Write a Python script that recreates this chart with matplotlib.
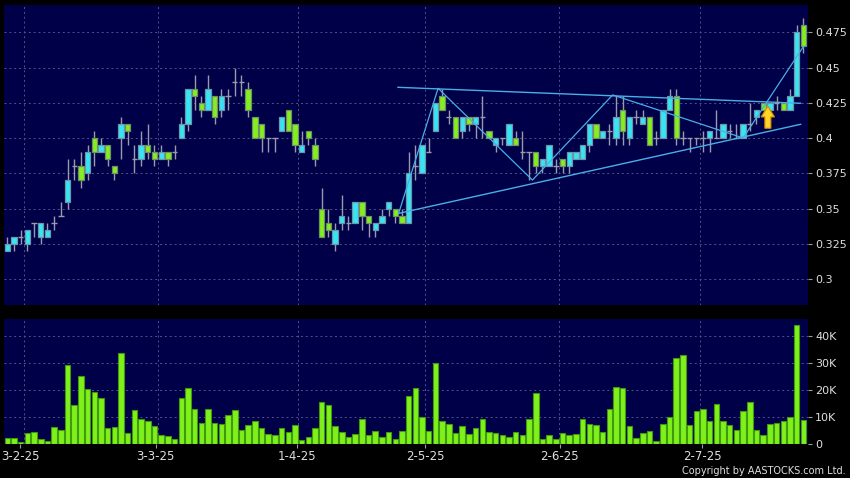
import matplotlib
matplotlib.use("Agg")
import matplotlib.pyplot as plt
from matplotlib.patches import Polygon
import numpy as np

# daily OHLC, oldest first (120 sessions)
opens = [0.32, 0.325, 0.33, 0.325, 0.34, 0.33, 0.33, 0.34, 0.345, 0.355,
         0.38, 0.38, 0.375, 0.40, 0.39, 0.395, 0.38, 0.40, 0.41, 0.385,
         0.385, 0.395, 0.39, 0.385, 0.39, 0.39, 0.40, 0.41, 0.435, 0.425,
         0.42, 0.43, 0.42, 0.43, 0.44, 0.44, 0.435, 0.415, 0.41, 0.40,
         0.40, 0.405, 0.42, 0.41, 0.39, 0.405, 0.395, 0.35, 0.34, 0.325,
         0.34, 0.34, 0.34, 0.355, 0.345, 0.335, 0.34, 0.35, 0.35, 0.345,
         0.34, 0.38, 0.375, 0.39, 0.405, 0.43, 0.415, 0.415, 0.405, 0.415,
         0.41, 0.415, 0.405, 0.395, 0.40, 0.395, 0.40, 0.39, 0.39, 0.39,
         0.38, 0.38, 0.38, 0.385, 0.38, 0.385, 0.385, 0.395, 0.41, 0.40,
         0.405, 0.40, 0.42, 0.40, 0.415, 0.41, 0.415, 0.40, 0.40, 0.42,
         0.43, 0.40, 0.40, 0.40, 0.40, 0.40, 0.40, 0.40, 0.405, 0.40,
         0.40, 0.41, 0.415, 0.425, 0.42, 0.425, 0.425, 0.42, 0.43, 0.48]
highs = [0.33, 0.33, 0.335, 0.335, 0.34, 0.34, 0.34, 0.345, 0.355, 0.385,
         0.385, 0.39, 0.395, 0.405, 0.40, 0.395, 0.38, 0.415, 0.41, 0.395,
         0.405, 0.41, 0.395, 0.395, 0.39, 0.395, 0.415, 0.435, 0.445, 0.43,
         0.445, 0.43, 0.435, 0.435, 0.45, 0.445, 0.44, 0.415, 0.41, 0.40,
         0.40, 0.415, 0.42, 0.41, 0.405, 0.405, 0.40, 0.365, 0.35, 0.34,
         0.36, 0.345, 0.355, 0.355, 0.345, 0.34, 0.35, 0.355, 0.35, 0.35,
         0.39, 0.395, 0.395, 0.40, 0.425, 0.435, 0.42, 0.415, 0.415, 0.415,
         0.415, 0.43, 0.405, 0.40, 0.40, 0.41, 0.405, 0.405, 0.39, 0.39,
         0.385, 0.395, 0.385, 0.385, 0.39, 0.39, 0.395, 0.41, 0.41, 0.405,
         0.41, 0.43, 0.43, 0.415, 0.42, 0.42, 0.415, 0.405, 0.42, 0.435,
         0.435, 0.405, 0.40, 0.40, 0.405, 0.405, 0.42, 0.41, 0.41, 0.41,
         0.41, 0.425, 0.42, 0.425, 0.425, 0.43, 0.425, 0.435, 0.48, 0.485]
lows = [0.32, 0.32, 0.325, 0.32, 0.33, 0.325, 0.33, 0.335, 0.345, 0.35,
        0.37, 0.365, 0.37, 0.38, 0.39, 0.38, 0.37, 0.385, 0.395, 0.375,
        0.38, 0.385, 0.38, 0.385, 0.38, 0.385, 0.40, 0.405, 0.42, 0.415,
        0.42, 0.41, 0.415, 0.42, 0.43, 0.43, 0.415, 0.40, 0.39, 0.39,
        0.39, 0.405, 0.405, 0.39, 0.39, 0.395, 0.38, 0.33, 0.33, 0.32,
        0.335, 0.335, 0.34, 0.335, 0.33, 0.33, 0.34, 0.345, 0.34, 0.34,
        0.34, 0.37, 0.375, 0.39, 0.405, 0.42, 0.41, 0.40, 0.40, 0.405,
        0.40, 0.40, 0.40, 0.39, 0.395, 0.395, 0.395, 0.385, 0.37, 0.375,
        0.375, 0.38, 0.375, 0.375, 0.375, 0.385, 0.385, 0.39, 0.40, 0.40,
        0.395, 0.395, 0.395, 0.395, 0.41, 0.41, 0.395, 0.395, 0.40, 0.42,
        0.395, 0.395, 0.39, 0.395, 0.39, 0.39, 0.40, 0.40, 0.40, 0.40,
        0.40, 0.405, 0.41, 0.42, 0.42, 0.42, 0.42, 0.42, 0.43, 0.46]
closes = [0.325, 0.33, 0.33, 0.335, 0.34, 0.34, 0.335, 0.34, 0.345, 0.37,
          0.38, 0.37, 0.39, 0.39, 0.395, 0.385, 0.375, 0.41, 0.405, 0.385,
          0.395, 0.39, 0.385, 0.39, 0.385, 0.39, 0.41, 0.435, 0.43, 0.42,
          0.435, 0.415, 0.43, 0.43, 0.44, 0.44, 0.42, 0.40, 0.40, 0.40,
          0.40, 0.415, 0.405, 0.395, 0.395, 0.40, 0.385, 0.33, 0.335, 0.335,
          0.345, 0.34, 0.355, 0.345, 0.34, 0.34, 0.345, 0.355, 0.345, 0.34,
          0.375, 0.38, 0.395, 0.39, 0.425, 0.42, 0.415, 0.40, 0.415, 0.41,
          0.415, 0.415, 0.40, 0.40, 0.40, 0.41, 0.395, 0.39, 0.39, 0.38,
          0.385, 0.395, 0.38, 0.38, 0.39, 0.39, 0.395, 0.41, 0.40, 0.405,
          0.405, 0.415, 0.405, 0.415, 0.415, 0.415, 0.395, 0.40, 0.42, 0.43,
          0.40, 0.40, 0.40, 0.40, 0.40, 0.405, 0.40, 0.41, 0.405, 0.40,
          0.41, 0.41, 0.42, 0.42, 0.425, 0.425, 0.42, 0.43, 0.475, 0.465]
# volume in thousands of shares
volume_k = [1.9, 2.1, 0.6, 4.0, 4.3, 1.6, 0.9, 6.0, 5.1, 29.3,
            14.4, 25.1, 20.4, 19.3, 17.1, 5.7, 6.3, 33.9, 3.9, 12.4,
            9.1, 8.4, 6.6, 3.1, 2.7, 1.5, 17.0, 20.6, 12.8, 7.8,
            13.0, 7.7, 7.2, 10.6, 12.4, 5.0, 6.8, 8.2, 5.8, 3.5,
            3.1, 5.7, 4.2, 6.8, 1.2, 2.4, 5.7, 15.3, 14.2, 6.5,
            4.3, 2.5, 3.5, 9.2, 3.1, 4.7, 2.4, 4.1, 1.6, 4.6,
            17.6, 20.7, 9.9, 4.6, 30.1, 8.4, 7.2, 3.8, 6.7, 3.5,
            5.7, 9.1, 4.3, 3.8, 3.1, 2.3, 4.3, 3.3, 9.3, 19.0,
            1.7, 3.1, 1.6, 3.9, 3.0, 3.6, 9.1, 7.3, 6.9, 4.2,
            12.7, 21.2, 20.6, 6.4, 2.2, 3.9, 4.6, 1.1, 7.4, 9.7,
            31.8, 33.1, 6.9, 12.0, 12.7, 8.5, 14.8, 8.2, 6.8, 5.0,
            12.2, 15.6, 5.0, 3.3, 7.1, 7.8, 8.2, 10.0, 44.0, 8.7]

date_labels = ["3-2-25", "3-3-25", "1-4-25", "2-5-25", "2-6-25", "2-7-25"]
date_ticks = [1.9, 22.2, 43.3, 62.5, 82.6, 103.9]   # where the labels sit
month_grid = [2.5, 22.5, 43.5, 62.5, 82.5, 103.5]   # dashed separators
price_ticks = [0.3, 0.325, 0.35, 0.375, 0.4, 0.425, 0.45, 0.475]
price_labels = ["0.3", "0.325", "0.35", "0.375", "0.4", "0.425", "0.45", "0.475"]
vol_ticks = [0, 10, 20, 30, 40]
vol_labels = ["0", "10K", "20K", "30K", "40K"]

# hand-drawn pattern lines (session index, price)
upper_x, upper_y = [58.4, 118.6], [0.436, 0.4247]
lower_x, lower_y = [58.5, 118.6], [0.3467, 0.4098]
zig_x = [58.5, 64.4, 78.5, 90.5, 110.0, 119.0]
zig_y = [0.3467, 0.4353, 0.3703, 0.4306, 0.4001, 0.4648]
arrow_x, arrow_tip, arrow_neck, arrow_base = 113.7, 0.4225, 0.415, 0.407

NAVY = "#000048"
GRID = "#52528a"
TXT = "#dedede"
CYAN = "#36e4f4"
GREEN = "#84ee1e"
WICK = "#9a9aae"
LINE = "#4aaee6"

x = np.arange(len(closes))
o = np.array(opens); h = np.array(highs); l = np.array(lows); c = np.array(closes)

fig = plt.figure(figsize=(8.5, 4.78), dpi=100, facecolor="black")
ax = fig.add_axes([4/850, 1-305/478, 804/850, 300/478], facecolor=NAVY)
ax2 = fig.add_axes([4/850, 1-443.5/478, 804/850, 124.5/478], facecolor=NAVY)

for a in (ax, ax2):
    for s in a.spines.values():
        s.set_visible(False)
    a.set_xlim(-0.5, 119.7)
    a.yaxis.tick_right()
    a.tick_params(axis="y", colors=WICK, labelcolor=TXT, labelsize=8,
                  length=3, pad=2)
    a.grid(axis="y", color=GRID, ls=(0, (2, 3)), lw=0.7)
    for p in month_grid:
        a.axvline(p, color=GRID, ls=(0, (2, 3)), lw=0.7, zorder=0.5)
    a.set_axisbelow(True)

# candles
w = 0.8
ax.vlines(x, l, h, color=WICK, lw=1, zorder=2)
up = c > o
dn = c < o
dj = c == o
ax.bar(x[up], (c - o)[up], bottom=o[up], width=w, color=CYAN,
       edgecolor="#6f96a8", lw=0.9, zorder=3)
ax.bar(x[dn], (o - c)[dn], bottom=c[dn], width=w, color=GREEN,
       edgecolor="#6f8f66", lw=0.9, zorder=3)
ax.hlines(c[dj], x[dj] - w/2, x[dj] + w/2, color=WICK, lw=1, zorder=3)

# pattern lines
ax.plot(upper_x, upper_y, color=LINE, lw=1, zorder=4)
ax.plot(lower_x, lower_y, color=LINE, lw=1, zorder=4)
ax.plot(zig_x, zig_y, color=LINE, lw=0.9, zorder=4)

# breakout arrow
aw, sw = 1.0, 0.45
arrow = Polygon([(arrow_x, arrow_tip), (arrow_x + aw, arrow_neck),
                 (arrow_x + sw, arrow_neck), (arrow_x + sw, arrow_base),
                 (arrow_x - sw, arrow_base), (arrow_x - sw, arrow_neck),
                 (arrow_x - aw, arrow_neck)], closed=True,
                facecolor="#ffd52a", edgecolor="#d98a00", lw=0.8, zorder=5)
ax.add_patch(arrow)

ax.set_ylim(0.2818, 0.4943)
ax.set_yticks(price_ticks)
ax.set_yticklabels(price_labels)
ax.set_xticks([])

# volume
ax2.bar(x, volume_k, width=0.82, color="#7ff01a", edgecolor="#3f9a10",
        lw=0.8, zorder=3)
ax2.set_ylim(0, 46.4)
ax2.set_yticks(vol_ticks)
ax2.set_yticklabels(vol_labels)
ax2.set_xticks(date_ticks)
ax2.set_xticklabels(date_labels)
ax2.tick_params(axis="x", colors=WICK, labelcolor=TXT, labelsize=8.5,
                length=3, pad=2)

fig.text(846/850, 1-471/478, "Copyright by AASTOCKS.com Ltd.", color=TXT,
         fontsize=7, ha="right", va="center")

fig.savefig("out.png", dpi=100, facecolor="black")
